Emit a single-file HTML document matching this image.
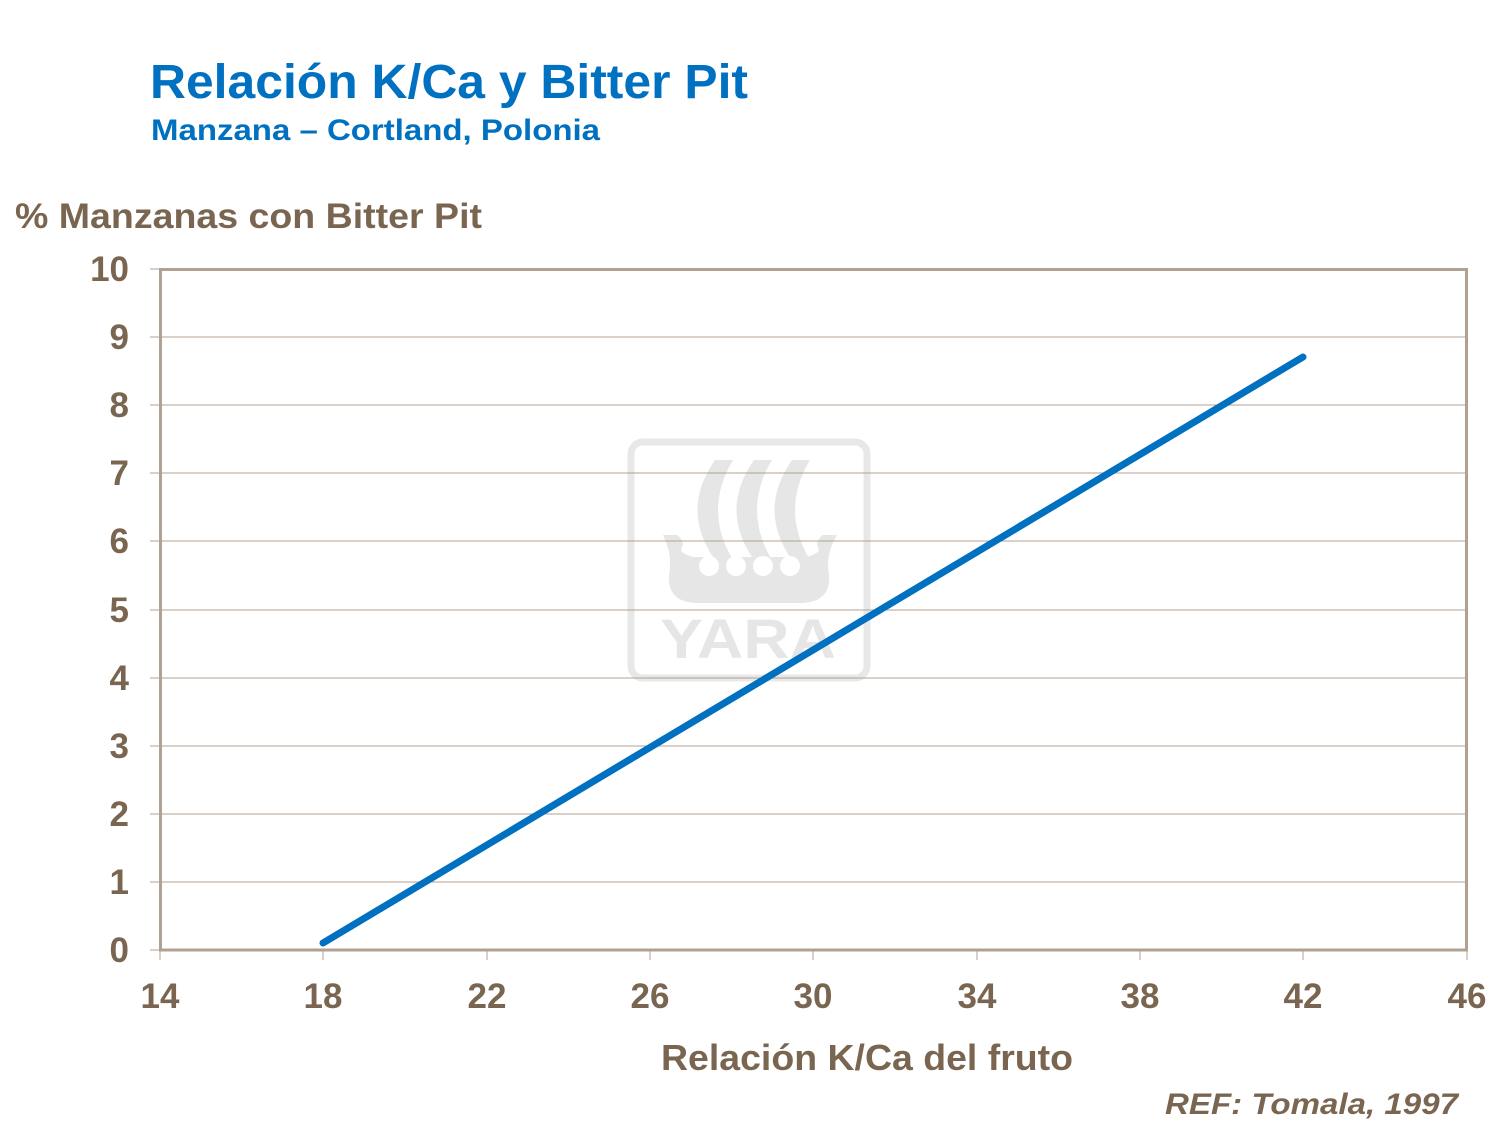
<!DOCTYPE html>
<html><head><meta charset="utf-8"><style>
body{margin:0;background:#fff}
svg{display:block}
text{font-family:"Liberation Sans",Arial,sans-serif;font-weight:bold}
</style></head><body>
<svg width="1499" height="1123" viewBox="0 0 1499 1123" xmlns="http://www.w3.org/2000/svg">
<text x="150" y="98" font-size="48" fill="#0070c0" textLength="598" lengthAdjust="spacingAndGlyphs">Relación K/Ca y Bitter Pit</text>
<text x="151" y="140" font-size="30" fill="#0070c0" textLength="449" lengthAdjust="spacingAndGlyphs">Manzana – Cortland, Polonia</text>
<text x="15" y="228" font-size="35" fill="#7a6650" textLength="467" lengthAdjust="spacingAndGlyphs">% Manzanas con Bitter Pit</text>
<!-- logo -->
<g fill="#e6e6e6">
<rect x="631" y="442" width="236" height="236" rx="12" fill="none" stroke="#e8e8e8" stroke-width="7"/>
<path d="M715 460 h18 q-30 50 0 100 h-18 q-35 -50 0 -100z"/>
<path d="M754 460 h18 q-30 50 0 100 h-18 q-35 -50 0 -100z"/>
<path d="M792 460 h18 q-30 50 0 100 h-18 q-35 -50 0 -100z"/>
<path d="M663 535 h14 q8 6 5 12 q-4 6 12 10 h112 q16 -4 12 -10 q-3 -6 5 -12 h14 q-12 20 -8 40 q2 28 -30 28 h-100 q-32 0 -30 -28 q4 -20 -6 -40z"/>
<text x="748" y="658" font-size="56" text-anchor="middle" fill="#e6e6e6" textLength="176" lengthAdjust="spacingAndGlyphs">YARA</text>
</g>
<g fill="#fff"><circle cx="709" cy="566" r="10"/><circle cx="736" cy="566" r="10"/><circle cx="763" cy="566" r="10"/><circle cx="790" cy="566" r="10"/></g>
<!-- grid -->
<g stroke="#b0a293" stroke-width="1">
<line x1="150" y1="269" x2="1467" y2="269"/>
<line x1="150" y1="337" x2="1467" y2="337"/>
<line x1="150" y1="405" x2="1467" y2="405"/>
<line x1="150" y1="473" x2="1467" y2="473"/>
<line x1="150" y1="541" x2="1467" y2="541"/>
<line x1="150" y1="610" x2="1467" y2="610"/>
<line x1="150" y1="678" x2="1467" y2="678"/>
<line x1="150" y1="746" x2="1467" y2="746"/>
<line x1="150" y1="814" x2="1467" y2="814"/>
<line x1="150" y1="882" x2="1467" y2="882"/>
<line x1="150" y1="950" x2="1467" y2="950"/>
<line x1="323" y1="950" x2="323" y2="960"/>
<line x1="487" y1="950" x2="487" y2="960"/>
<line x1="650" y1="950" x2="650" y2="960"/>
<line x1="813" y1="950" x2="813" y2="960"/>
<line x1="977" y1="950" x2="977" y2="960"/>
<line x1="1140" y1="950" x2="1140" y2="960"/>
<line x1="1303" y1="950" x2="1303" y2="960"/>
<line x1="1467" y1="950" x2="1467" y2="960"/>
<line x1="160" y1="950" x2="160" y2="960"/>
</g>
<rect x="160.5" y="269.5" width="1306" height="680.5" fill="none" stroke="#b0a293" stroke-width="3"/>
<line x1="323" y1="943" x2="1303" y2="357" stroke="#0070c0" stroke-width="7" stroke-linecap="round"/>
<g font-size="35" fill="#7a6650" text-anchor="end">
<text x="129" y="281">10</text><text x="129" y="349">9</text><text x="129" y="417">8</text>
<text x="129" y="485">7</text><text x="129" y="553">6</text><text x="129" y="622">5</text>
<text x="129" y="690">4</text><text x="129" y="758">3</text><text x="129" y="826">2</text>
<text x="129" y="894">1</text><text x="129" y="962">0</text>
</g>
<g font-size="35" fill="#7a6650" text-anchor="middle">
<text x="160" y="1008">14</text><text x="323" y="1008">18</text><text x="487" y="1008">22</text>
<text x="650" y="1008">26</text><text x="813" y="1008">30</text><text x="977" y="1008">34</text>
<text x="1140" y="1008">38</text><text x="1303" y="1008">42</text><text x="1467" y="1008">46</text>
</g>
<text x="661" y="1070" font-size="36" fill="#7a6650" textLength="412" lengthAdjust="spacingAndGlyphs">Relación K/Ca del fruto</text>
<text x="1165" y="1114" font-size="30" fill="#7a6650" font-style="italic" textLength="293" lengthAdjust="spacingAndGlyphs">REF: Tomala, 1997</text>
</svg>
</body></html>
